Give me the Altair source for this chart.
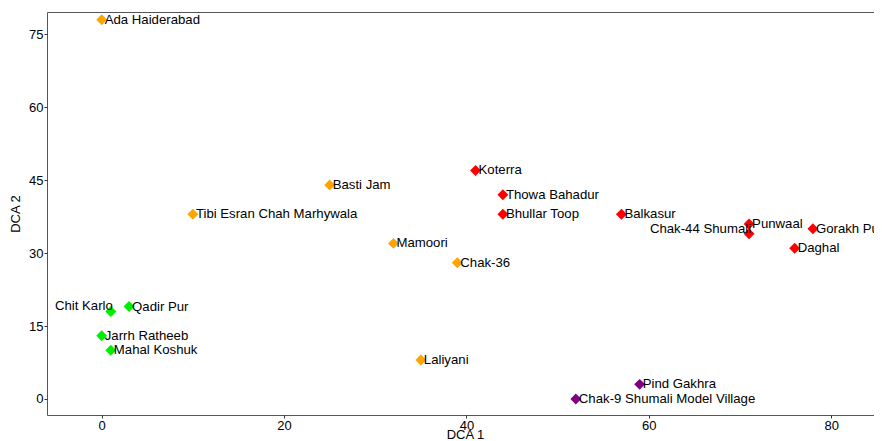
import altair as alt
import pandas as pd

sites = ["Ada Haiderabad", "Basti Jam", "Tibi Esran Chah Marhywala", "Mamoori", "Chak-36", "Laliyani",
         "Koterra", "Thowa Bahadur", "Bhullar Toop", "Balkasur", "Punwaal", "Chak-44 Shumali",
         "Gorakh Pur", "Daghal",
         "Chit Karlo", "Qadir Pur", "Jarrh Ratheeb", "Mahal Koshuk",
         "Pind Gakhra", "Chak-9 Shumali Model Village"]
dca1 = [0, 25, 10, 32, 39, 35,
        41, 44, 44, 57, 71, 71, 78, 76,
        1, 3, 0, 1,
        59, 52]
dca2 = [78, 44, 38, 32, 28, 8,
        47, 42, 38, 38, 36, 34, 35, 31,
        18, 19, 13, 10,
        3, 0]
groups = ["A"] * 6 + ["B"] * 8 + ["C"] * 4 + ["D"] * 2
group_names = ["A", "B", "C", "D"]
group_colors = ["#FFA500", "#FF0000", "#00EE00", "#800080"]
left_labels = ["Chit Karlo", "Chak-44 Shumali"]

df = pd.DataFrame({"site": sites, "DCA1": dca1, "DCA2": dca2, "group": groups})

FONT = "Liberation Sans"

x = alt.X("DCA1:Q", title="DCA 1",
          scale=alt.Scale(domain=[-6, 84.7], nice=False, zero=False),
          axis=alt.Axis(values=[0, 20, 40, 60, 80], grid=False, domain=False,
                        tickSize=3, tickColor="#333", labelFontSize=13, labelColor="black",
                        labelFont=FONT, titleFont=FONT, titleFontSize=13, titleFontWeight="normal",
                        titleColor="black", labelPadding=1,
                        titleX=418, titleAlign="center",
                        titleY=23, titleBaseline="alphabetic"))
y = alt.Y("DCA2:Q", title="DCA 2",
          scale=alt.Scale(domain=[-3.3, 79.6], nice=False, zero=False),
          axis=alt.Axis(values=[0, 15, 30, 45, 60, 75], grid=False, domain=False,
                        tickSize=3, tickColor="#333", labelFontSize=13, labelColor="black",
                        labelFont=FONT, titleFont=FONT, titleFontSize=13, titleFontWeight="normal",
                        titleColor="black", labelPadding=1, titlePadding=6))
color = alt.Color("group:N", scale=alt.Scale(domain=group_names, range=group_colors), legend=None)

base = alt.Chart(df)

points = base.mark_point(shape="diamond", filled=True, size=120, opacity=1).encode(x=x, y=y, color=color)

labels_right = base.transform_filter(
    ~alt.FieldOneOfPredicate(field="site", oneOf=left_labels)
).mark_text(align="left", baseline="middle", dx=3, fontSize=13.2, font=FONT, color="black", clip=True).encode(
    x=x, y=y, text="site:N")

labels_left = base.transform_filter(
    alt.FieldOneOfPredicate(field="site", oneOf=left_labels)
).mark_text(align="right", baseline="middle", dx=2, dy=-5, fontSize=13.2, font=FONT, color="black", clip=True).encode(
    x=x, y=y, text="site:N")

chart = alt.layer(points, labels_right, labels_left).properties(
    width=827, height=403,
    autosize=alt.AutoSizeParams(type="none"),
    padding={"left": 39, "top": 4, "right": 0, "bottom": 25},
).configure_view(stroke="#555", strokeWidth=1)

chart.save("out.html", embed_options={"renderer": "svg", "actions": False})
